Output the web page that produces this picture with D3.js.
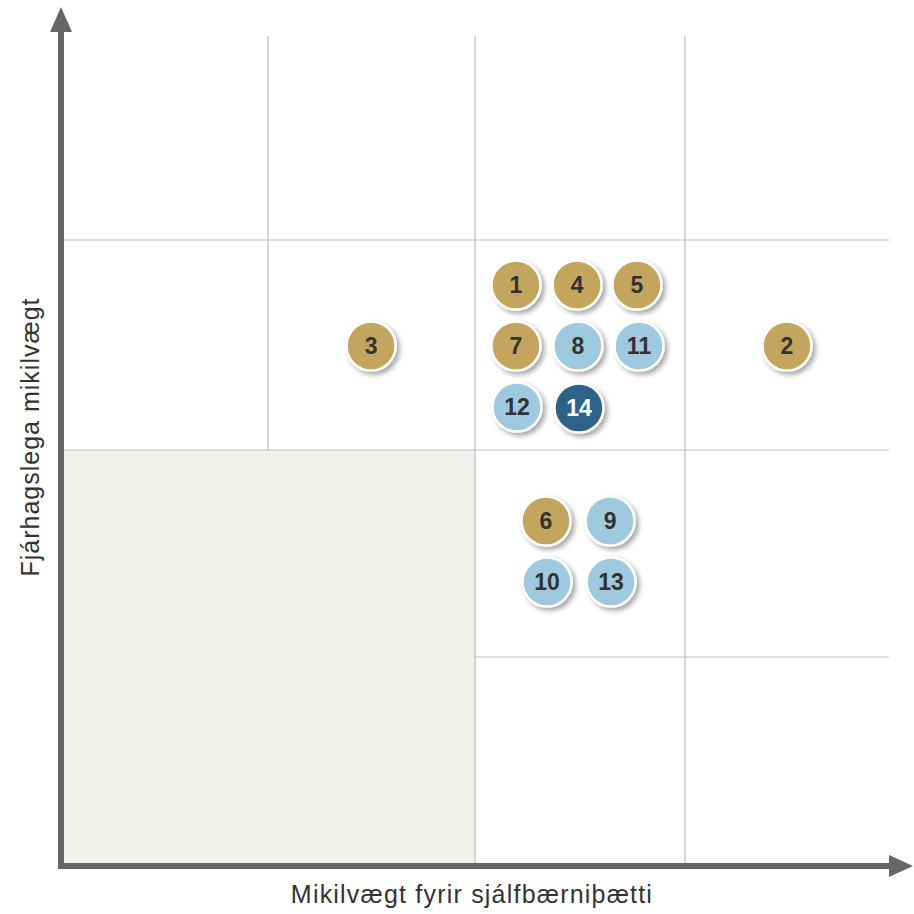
<!DOCTYPE html>
<html>
<head>
<meta charset="utf-8">
<script src="https://cdn.jsdelivr.net/npm/d3@7"></script>
<style>
  body { margin: 0; background: #fff; }
  svg { display: block; }
</style>
</head>
<body>
<div id="chart"></div>
<script>
let width = 914;
let height = 914;

// topics: id, sustainability importance (x), financial importance (y), group
let ids    = [1, 2, 3, 4, 5, 6, 7, 8, 9, 10, 11, 12, 13, 14];
let xVals  = [2.195, 3.50, 1.498, 2.486, 2.771, 2.338, 2.195, 2.490, 2.643, 2.343, 2.781, 2.200, 2.648, 2.495];
let yVals  = [2.786, 2.495, 2.495, 2.786, 2.786, 1.657, 2.495, 2.495, 1.657, 1.362, 2.495, 2.205, 1.362, 2.200];
let groups = ["e", "e", "e", "e", "e", "e", "e", "s", "s", "s", "s", "s", "s", "g"];

let xLabel = "Mikilvægt fyrir sjálfbærniþætti";
let yLabel = "Fjárhagslega mikilvægt";

let fill = {e: "#c4a55d", s: "#9fc9de", g: "#2f6388"};
let textFill = {e: "#333333", s: "#333333", g: "#ffffff"};

let x = d3.scaleLinear().domain([0, 1, 2, 3, 4]).range([62, 268, 475, 685, 889]);
let y = d3.scaleLinear().domain([0, 1, 2, 3, 4]).range([866, 657, 450, 240, 36]);

let svg = d3.select("#chart").append("svg")
    .attr("width", width)
    .attr("height", height);

let defs = svg.append("defs");
let shadow = defs.append("filter").attr("id", "shadow")
    .attr("x", "-30%").attr("y", "-30%").attr("width", "170%").attr("height", "170%");
shadow.append("feDropShadow")
    .attr("dx", 3).attr("dy", 3).attr("stdDeviation", 2.5)
    .attr("flood-color", "#000").attr("flood-opacity", 0.35);

// shaded low-low area
svg.append("rect")
    .attr("x", x(0)).attr("y", y(2))
    .attr("width", x(2) - x(0)).attr("height", y(0) - y(2))
    .attr("fill", "#f1f0ed");

// grid
let grid = svg.append("g").attr("stroke", "#bdbdbd").attr("stroke-width", 1.2);
// vertical lines
[[1, 2, 4], [2, 0, 4], [3, 0, 4]].forEach(([v, a, b]) => {
  grid.append("line")
      .attr("x1", x(v)).attr("x2", x(v))
      .attr("y1", y(a)).attr("y2", y(b));
});
// horizontal lines
[[3, 0, 4], [2, 0, 4], [1, 2, 4]].forEach(([v, a, b]) => {
  grid.append("line")
      .attr("x1", x(a)).attr("x2", x(b))
      .attr("y1", y(v)).attr("y2", y(v));
});

// axes with arrows
let axisColor = "#666666";
svg.append("line")
    .attr("x1", x(0) - 1).attr("x2", x(0) - 1)
    .attr("y1", y(0) + 3).attr("y2", 28)
    .attr("stroke", axisColor).attr("stroke-width", 6);
svg.append("path")
    .attr("d", `M${x(0) - 1},7 L${x(0) - 12},32 L${x(0) + 10},32 Z`)
    .attr("fill", axisColor);
svg.append("line")
    .attr("x1", x(0) - 4).attr("x2", 890)
    .attr("y1", y(0)).attr("y2", y(0))
    .attr("stroke", axisColor).attr("stroke-width", 6);
svg.append("path")
    .attr("d", `M913,${y(0)} L889,${y(0) - 11} L889,${y(0) + 11} Z`)
    .attr("fill", axisColor);

// axis titles
svg.append("text")
    .attr("x", 472)
    .attr("y", 903)
    .attr("text-anchor", "middle")
    .attr("font-family", "Liberation Sans, Arial, sans-serif")
    .attr("font-size", 25)
    .attr("letter-spacing", 1.2)
    .attr("fill", "#333")
    .text(xLabel);
svg.append("text")
    .attr("transform", `translate(39,437) rotate(-90)`)
    .attr("text-anchor", "middle")
    .attr("font-family", "Liberation Sans, Arial, sans-serif")
    .attr("font-size", 25)
    .attr("letter-spacing", 1)
    .attr("fill", "#333")
    .text(yLabel);

// bubbles
let data = ids.map((id, i) => ({id, x: xVals[i], y: yVals[i], g: groups[i]}));
let nodes = svg.append("g")
    .selectAll("g")
    .data(data)
    .join("g")
    .attr("transform", d => `translate(${x(d.x)},${y(d.y)})`);
nodes.append("circle")
    .attr("r", 24.5)
    .attr("fill", d => fill[d.g])
    .attr("stroke", "#fff")
    .attr("stroke-width", 2.5)
    .attr("filter", "url(#shadow)");
nodes.append("text")
    .attr("text-anchor", "middle")
    .attr("dy", "0.36em")
    .attr("font-family", "Liberation Sans, Arial, sans-serif")
    .attr("font-weight", "bold")
    .attr("font-size", 23)
    .attr("fill", d => textFill[d.g])
    .text(d => d.id);
</script>
</body>
</html>
